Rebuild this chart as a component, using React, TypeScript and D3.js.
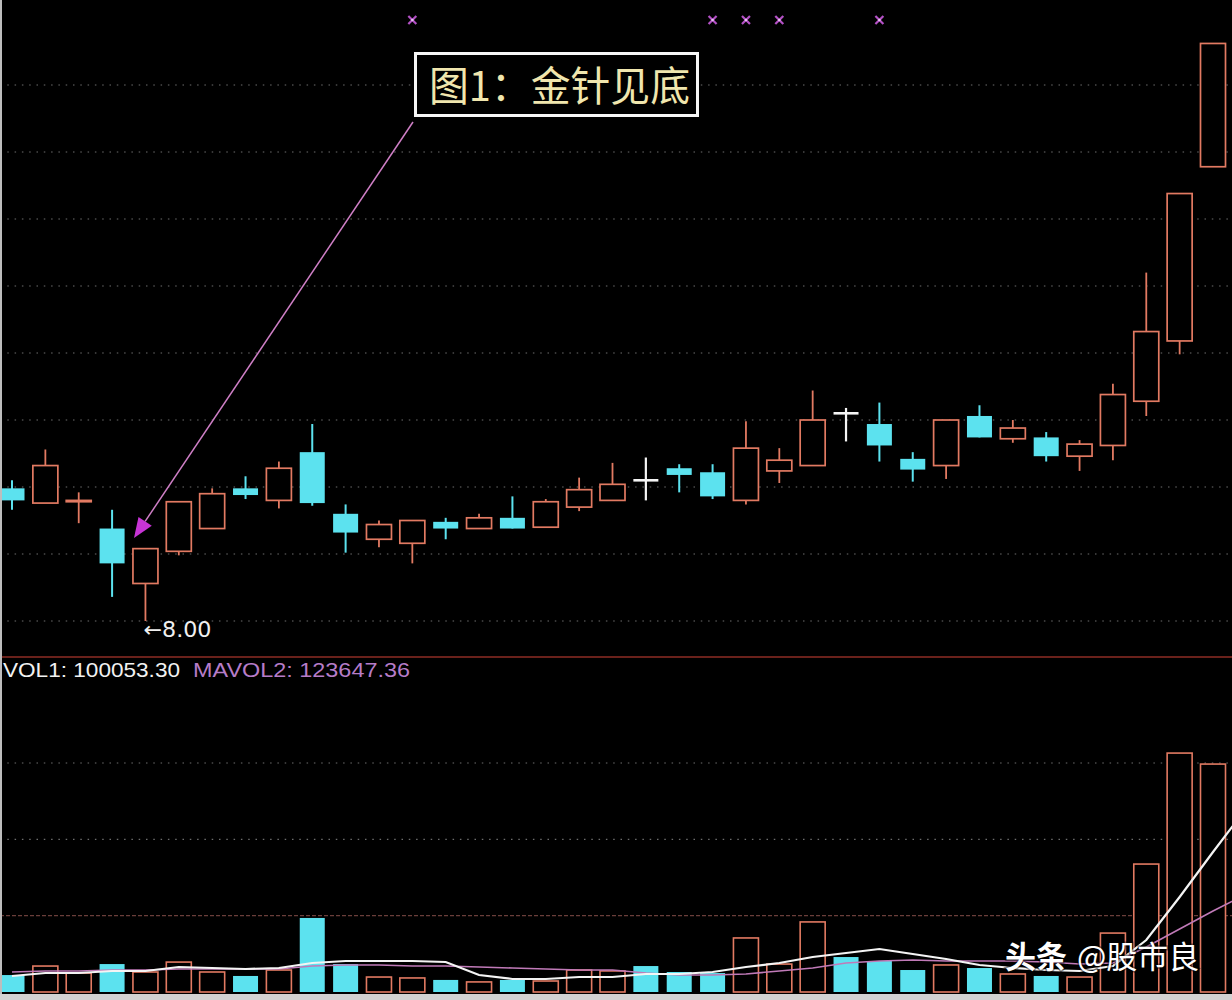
import React from 'react';
import * as d3 from 'd3';

const W = 1232;
const H = 1000;

// ---- Daily candles (price, yuan) ----
const openP = [8.99, 8.88, 8.89, 8.69, 8.28, 8.52, 8.69, 8.99, 8.90, 9.26, 8.80, 8.61, 8.58, 8.74, 8.69, 8.77, 8.70, 8.85, 8.90, 9.05, 9.14, 9.11, 8.90, 9.12, 9.16, 9.55, 9.47, 9.21, 9.16, 9.53, 9.36, 9.37, 9.23, 9.31, 9.64, 10.09, 11.39];
const highP = [9.05, 9.28, 8.96, 8.83, 8.54, 8.89, 8.99, 9.08, 9.19, 9.47, 8.87, 8.75, 8.75, 8.77, 8.80, 8.93, 8.91, 9.07, 9.18, 9.22, 9.17, 9.17, 9.49, 9.29, 9.72, 9.59, 9.63, 9.26, 9.50, 9.61, 9.50, 9.41, 9.35, 9.77, 10.60, 11.19, 12.31];
const lowP = [8.83, 8.88, 8.73, 8.18, 8.00, 8.49, 8.69, 8.91, 8.84, 8.86, 8.51, 8.55, 8.43, 8.61, 8.69, 8.69, 8.70, 8.82, 8.90, 8.90, 8.96, 8.91, 8.87, 9.03, 9.16, 9.34, 9.19, 9.04, 9.06, 9.37, 9.33, 9.19, 9.12, 9.20, 9.53, 9.99, 11.39];
const closeP = [8.90, 9.16, 8.90, 8.43, 8.54, 8.89, 8.95, 8.94, 9.14, 8.88, 8.66, 8.72, 8.75, 8.69, 8.77, 8.69, 8.89, 8.98, 9.02, 9.05, 9.09, 8.93, 9.29, 9.20, 9.50, 9.55, 9.31, 9.13, 9.50, 9.37, 9.44, 9.23, 9.32, 9.69, 10.16, 11.19, 12.31];

// ---- Volume and its moving averages ----
const volume = [11100, 17000, 12400, 18300, 13100, 19600, 13100, 10500, 14400, 48500, 18300, 9800, 9200, 7900, 6600, 7900, 7200, 14400, 13800, 17000, 13100, 12400, 35400, 18300, 45900, 22900, 20300, 14400, 17700, 15700, 11800, 10500, 9800, 38600, 83800, 156500, 149300];
// MA lines (last value lies just beyond the right edge)
const maVol5 = [10480, 12445, 12445, 13755, 13755, 16375, 15720, 15065, 15720, 18995, 20305, 20305, 20305, 19650, 11135, 8515, 8515, 9825, 9825, 11790, 11790, 13100, 16375, 18995, 22925, 25545, 28165, 24890, 21615, 17685, 15720, 14410, 13755, 17030, 34060, 62225, 91700, 120520];
const maVol10 = [13100, 13755, 13755, 14410, 14410, 15065, 15065, 15065, 15065, 17030, 17685, 17685, 17030, 17030, 16375, 15720, 15065, 14410, 14410, 12445, 11135, 11135, 11790, 13755, 15720, 18995, 20305, 20960, 20305, 20305, 20305, 19650, 18340, 18995, 29475, 41265, 53055, 64190];

const signalIdx = [12, 21, 22, 23, 26];
const priceTicks = [8, 8.5, 9, 9.5, 10, 10.5, 11, 11.5, 12];
const volTicks = [50000, 100000, 150000];

const titleText = '图1：金针见底';
const lowLabel = '←8.00';
const vol1Label = 'VOL1: 100053.30';
const vol2Label = 'MAVOL2: 123647.36';
const wmA = '头条';
const wmB = '@股市良';

const RED = '#e27a62';
const CYAN = '#5ce2ef';
const WHITE = '#f4f4f4';

export default function App() {
  const x = d3.scaleLinear().domain([0, 36]).range([12, 1213]);
  const y = d3.scaleLinear().domain([8, 12]).range([621, 85]);
  const yv = d3.scaleLinear().domain([0, 150000]).range([992, 763]);
  const bw = 25;

  const lineGen = d3
    .line<number>()
    .x((_, i) => x(i))
    .y((d) => yv(d));

  const lowIdx = d3.minIndex(lowP);

  // arrow geometry (annotation)
  const ax0 = 413, ay0 = 122;
  const tipX = 134, tipY = 538;
  const dx = tipX - ax0, dy = tipY - ay0;
  const len = Math.hypot(dx, dy);
  const ux = dx / len, uy = dy / len;
  const hl = 20, hw = 8;
  const bx = tipX - ux * hl, by = tipY - uy * hl;
  const px = -uy * hw, py = ux * hw;

  return (
    <svg
      width={W}
      height={H}
      viewBox={`0 0 ${W} ${H}`}
      style={{ position: 'absolute', left: 0, top: 0, display: 'block', background: '#000' }}
    >
      <rect x={0} y={0} width={W} height={H} fill="#000" />

      {/* price grid */}
      {priceTicks.map((t) => (
        <line key={'pg' + t} x1={0} x2={W} y1={y(t)} y2={y(t)} stroke="#6e6e6e" strokeWidth={1.2} strokeDasharray="1.5 5.8" />
      ))}

      {/* volume grid */}
      {volTicks.map((t, i) => (
        <line
          key={'vg' + t}
          x1={0}
          x2={W}
          y1={yv(t)}
          y2={yv(t)}
          stroke={i === 0 ? '#6a3e3a' : '#6e6e6e'}
          strokeWidth={1.2}
          strokeDasharray={i === 0 ? '4 2' : '1.5 5.8'}
        />
      ))}

      {/* separator */}
      <line x1={0} x2={W} y1={657} y2={657} stroke="#8e2d24" strokeWidth={1.6} />

      {/* candles */}
      {openP.map((o, i) => {
        const h = highP[i], l = lowP[i], c = closeP[i];
        const cx = x(i);
        if (c === o) {
          return (
            <g key={'c' + i}>
              <line x1={cx} x2={cx} y1={y(h)} y2={y(l)} stroke={WHITE} strokeWidth={2.2} />
              <line x1={cx - bw / 2} x2={cx + bw / 2} y1={y(o)} y2={y(o)} stroke={WHITE} strokeWidth={2.6} />
            </g>
          );
        }
        if (c > o) {
          const top = y(c), bot = y(o);
          return (
            <g key={'c' + i}>
              {y(h) < top - 0.5 && <line x1={cx} x2={cx} y1={y(h)} y2={top} stroke={RED} strokeWidth={1.8} />}
              {y(l) > bot + 0.5 && <line x1={cx} x2={cx} y1={bot} y2={y(l)} stroke={RED} strokeWidth={1.8} />}
              <rect x={cx - bw / 2} y={top} width={bw} height={Math.max(1, bot - top)} fill="#000" stroke={RED} strokeWidth={1.7} />
            </g>
          );
        }
        const top = y(o), bot = y(c);
        return (
          <g key={'c' + i}>
            <line x1={cx} x2={cx} y1={y(h)} y2={y(l)} stroke={CYAN} strokeWidth={2} />
            <rect x={cx - bw / 2} y={top} width={bw} height={Math.max(1, bot - top)} fill={CYAN} />
          </g>
        );
      })}

      {/* signal markers */}
      {signalIdx.map((i) => {
        const cx = x(i);
        const cy = 20;
        const s = 4;
        return (
          <g key={'s' + i}>
            <line x1={cx - s} x2={cx + s} y1={cy - s} y2={cy + s} stroke="#b451c6" strokeWidth={2.2} />
            <line x1={cx - s} x2={cx + s} y1={cy + s} y2={cy - s} stroke="#b451c6" strokeWidth={2.2} />
            <circle cx={cx} cy={cy} r={1.3} fill="#e6c8ef" />
          </g>
        );
      })}

      {/* low label */}
      <text
        x={x(lowIdx) - 2}
        y={y(lowP[lowIdx]) + 16}
        fill="#f0f0f0"
        fontSize={21}
        textLength={68}
        lengthAdjust="spacingAndGlyphs"
        fontFamily="'DejaVu Sans', 'Liberation Sans', sans-serif"
      >
        {lowLabel}
      </text>

      {/* annotation arrow */}
      <line x1={ax0} y1={ay0} x2={bx} y2={by} stroke="#cf7fc6" strokeWidth={1.5} />
      <polygon points={`${tipX},${tipY} ${bx + px},${by + py} ${bx - px},${by - py}`} fill="#c734d6" />

      {/* title box */}
      <rect x={415.5} y={53.5} width={282} height={62} fill="#000" stroke="#f6f6f6" strokeWidth={3} />
      <text
        x={429}
        y={101}
        fill="#f0e6ae"
        fontSize={41}
        textLength={261}
        lengthAdjust="spacingAndGlyphs"
        fontFamily="'Noto Sans CJK SC', sans-serif"
      >
        {titleText}
      </text>

      {/* volume bars */}
      {volume.map((v, i) => {
        const cx = x(i);
        const up = closeP[i] > openP[i];
        const top = yv(v);
        const bot = yv(0);
        return up ? (
          <rect key={'v' + i} x={cx - bw / 2} y={top} width={bw} height={bot - top} fill="#000" stroke={RED} strokeWidth={1.6} />
        ) : (
          <rect key={'v' + i} x={cx - bw / 2} y={top} width={bw} height={bot - top} fill={CYAN} />
        );
      })}

      {/* moving averages */}
      <path d={lineGen(maVol10) || ''} fill="none" stroke="#c07ab8" strokeWidth={1.6} />
      <path d={lineGen(maVol5) || ''} fill="none" stroke={WHITE} strokeWidth={2.2} />

      {/* volume legend */}
      <text
        x={3}
        y={677}
        fill="#f2f2f2"
        fontSize={21}
        textLength={177}
        lengthAdjust="spacingAndGlyphs"
        fontFamily="'Liberation Sans', Arial, sans-serif"
      >
        {vol1Label}
      </text>
      <text
        x={193}
        y={677}
        fill="#b67cc8"
        fontSize={21}
        textLength={217}
        lengthAdjust="spacingAndGlyphs"
        fontFamily="'Liberation Sans', Arial, sans-serif"
      >
        {vol2Label}
      </text>

      {/* watermark */}
      <text
        x={1005}
        y={968}
        fill="#ffffff"
        fontSize={31}
        fontFamily="'Noto Sans CJK SC', sans-serif"
        stroke="rgba(0,0,0,0.45)"
        strokeWidth={3}
        style={{ paintOrder: 'stroke' }}
      >
        <tspan fontWeight={700}>{wmA}</tspan>
        <tspan dx={10}>{wmB}</tspan>
      </text>

      {/* frame edges */}
      <rect x={0} y={0} width={2} height={H} fill="#bdbdbd" />
      <rect x={0} y={994} width={W} height={6} fill="#d2d2d2" />
    </svg>
  );
}
